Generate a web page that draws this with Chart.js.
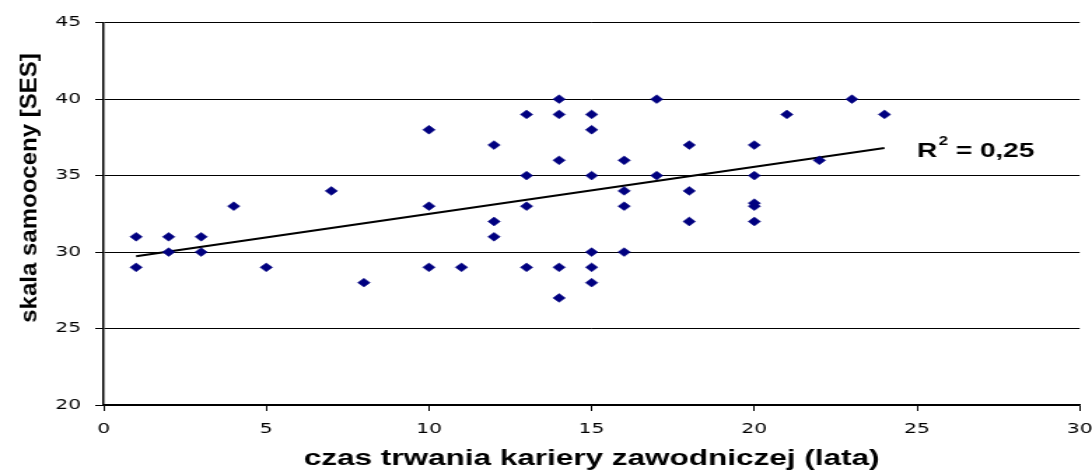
<!DOCTYPE html>
<html lang="pl">
<head>
<meta charset="UTF-8">
<title>Skala samooceny a czas trwania kariery</title>
<script src="https://cdn.jsdelivr.net/npm/chart.js@4.4.0/dist/chart.umd.min.js"></script>
<style>
  html, body { margin: 0; padding: 0; background: #fff; }
</style>
</head>
<body>
<!-- the original picture is stretched sideways, so the canvas is too -->
<canvas id="chart" width="780" height="470" style="display:block;width:1092px;height:470px"></canvas>
<script>
const careerYears = [1, 1, 2, 2, 3, 3, 4, 5, 7, 8, 10, 10, 10, 11, 12, 12, 12,
  13, 13, 13, 13, 14, 14, 14, 14, 14, 15, 15, 15, 15, 15, 15, 16, 16, 16, 16,
  17, 17, 18, 18, 18, 20, 20, 20, 20, 20, 21, 22, 23, 24];
const sesScores = [31, 29, 31, 30, 31, 30, 33, 29, 34, 28, 38, 33, 29, 29, 37, 32, 31,
  39, 35, 33, 29, 40, 39, 36, 29, 27, 39, 38, 35, 30, 29, 28, 36, 34, 33, 30,
  40, 35, 37, 34, 32, 37, 35, 33.2, 33, 32, 39, 36, 40, 39];
const xTickValues = [0, 5, 10, 15, 20, 25, 30];
const yTickValues = [20, 25, 30, 35, 40, 45];
const xTitle = 'czas trwania kariery zawodniczej (lata)';
const yTitle = 'skala samooceny [SES]';
const r2Value = '0,25';

const STRETCH = 1092 / 780;

// least squares trend line
const n = careerYears.length;
const mx = careerYears.reduce((a, b) => a + b, 0) / n;
const my = sesScores.reduce((a, b) => a + b, 0) / n;
let sxy = 0, sxx = 0;
for (let i = 0; i < n; i++) {
  sxy += (careerYears[i] - mx) * (sesScores[i] - my);
  sxx += (careerYears[i] - mx) ** 2;
}
const slope = sxy / sxx;
const intercept = my - slope * mx;
const xMin = Math.min(...careerYears), xMax = Math.max(...careerYears);
const trend = [xMin, xMax].map(x => ({ x: x, y: intercept + slope * x }));

const points = careerYears.map((x, i) => ({ x: x, y: sesScores[i] }));

const labels = {
  id: 'labels',
  afterDraw(chart) {
    const { ctx, scales: { x, y } } = chart;
    ctx.save();
    ctx.fillStyle = '#000';
    // y axis title, undo the sideways stretch
    ctx.translate(21.4, 188);
    ctx.scale(1 / STRETCH, 1);
    ctx.rotate(-Math.PI / 2);
    ctx.font = 'bold 24px "Liberation Sans", Arial, sans-serif';
    ctx.textAlign = 'center';
    ctx.textBaseline = 'middle';
    ctx.fillText(yTitle, 0, 0);
    ctx.restore();

    // R^2 label
    ctx.save();
    ctx.fillStyle = '#000';
    ctx.textBaseline = 'alphabetic';
    ctx.textAlign = 'left';
    let px = x.getPixelForValue(25.0);
    const py = y.getPixelForValue(36.22);
    ctx.font = 'bold 20px "Liberation Sans", Arial, sans-serif';
    ctx.fillText('R', px, py);
    px += ctx.measureText('R').width + 1;
    ctx.font = 'bold 12px "Liberation Sans", Arial, sans-serif';
    ctx.fillText('2', px, py - 12);
    px += ctx.measureText('2').width;
    ctx.font = 'bold 20px "Liberation Sans", Arial, sans-serif';
    ctx.fillText(' = ' + r2Value, px, py);
    ctx.restore();
  }
};

new Chart(document.getElementById('chart'), {
  type: 'scatter',
  data: {
    datasets: [{
      label: 'SES',
      data: points,
      order: 0,
      pointStyle: 'rectRot',
      pointRadius: 4.4,
      pointBackgroundColor: '#000080',
      pointBorderColor: '#000080',
      pointBorderWidth: 0.5
    }, {
      label: 'trend',
      type: 'line',
      data: trend,
      order: 1,
      borderColor: '#000',
      borderWidth: 2,
      pointRadius: 0,
      fill: false
    }]
  },
  options: {
    responsive: false,
    animation: false,
    layout: { padding: { top: 22.7, right: 8.8, left: 0, bottom: 0 } },
    plugins: { legend: { display: false }, tooltip: { enabled: false } },
    scales: {
      x: {
        type: 'linear',
        min: 0, max: 30,
        afterBuildTicks: s => { s.ticks = xTickValues.map(v => ({ value: v })); },
        // let the last label run off the edge like in the original
        afterFit: s => { s.height = 65; s.paddingRight = 0; s.paddingLeft = 0; },
        border: { color: '#000', width: 1.5 },
        grid: { drawOnChartArea: false, drawTicks: true, tickLength: 6, tickColor: '#000', tickWidth: 1 },
        ticks: {
          color: '#000',
          padding: 10,
          maxRotation: 0,
          font: { family: '"DejaVu Sans", sans-serif', size: 14.5 }
        },
        title: {
          display: true,
          text: xTitle,
          color: '#000',
          padding: { top: 0, bottom: 0 },
          font: { family: '"Liberation Sans", Arial, sans-serif', size: 22.5, weight: 'bold', lineHeight: 1 }
        }
      },
      y: {
        type: 'linear',
        min: 20, max: 45,
        afterBuildTicks: s => { s.ticks = yTickValues.map(v => ({ value: v })); },
        afterFit: s => { s.width = 74; },
        border: { color: '#000', width: 1.5 },
        grid: { color: '#000', lineWidth: 1, drawTicks: true, tickLength: 6, tickColor: '#000' },
        ticks: {
          color: '#000',
          padding: 10,
          font: { family: '"DejaVu Sans", sans-serif', size: 14.5 }
        }
      }
    }
  },
  plugins: [labels]
});
</script>
</body>
</html>
